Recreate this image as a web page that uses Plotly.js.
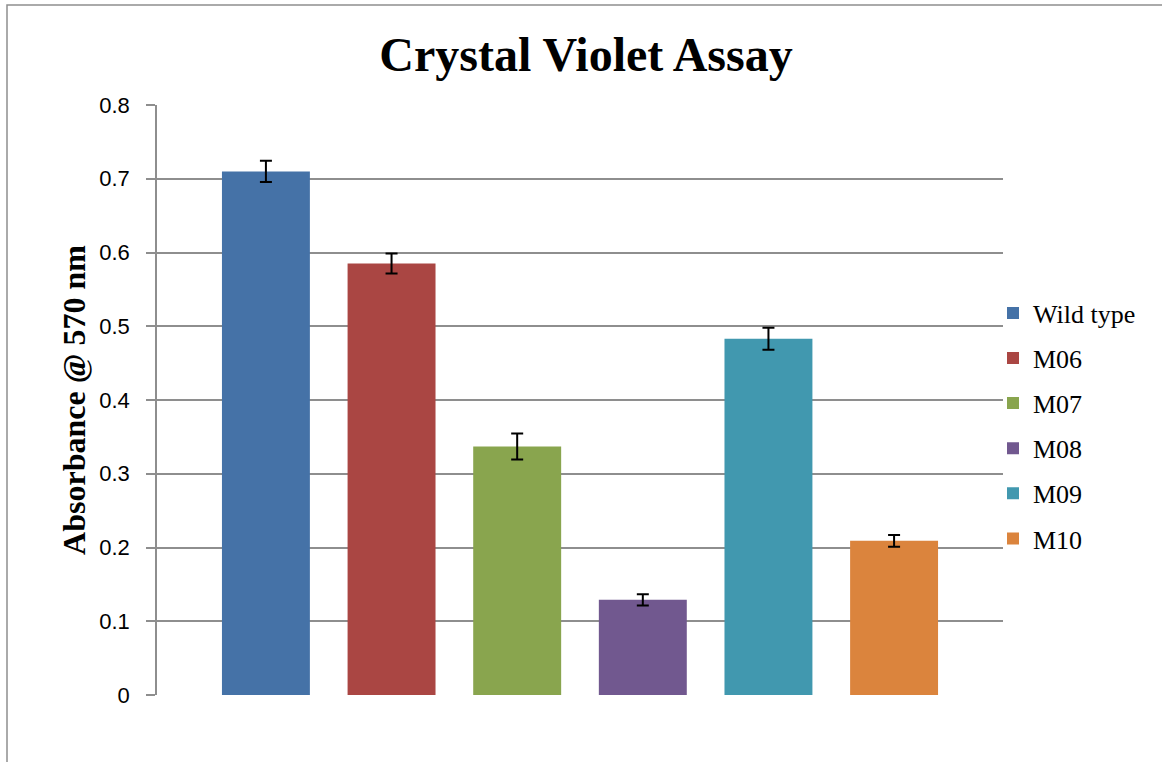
<!DOCTYPE html>
<html>
<head>
<meta charset="utf-8">
<script src="https://cdn.plot.ly/plotly-3.0.1.min.js"></script>
<style>
  html, body { margin: 0; padding: 0; background: #fff; }
  #chart { width: 1162px; height: 762px; }
</style>
</head>
<body>
<div id="chart"></div>
<script>
const seriesNames = ['Wild type', 'M06', 'M07', 'M08', 'M09', 'M10'];
const seriesValues = [0.710, 0.585, 0.337, 0.129, 0.483, 0.209];
const seriesErrors = [0.0145, 0.0135, 0.0176, 0.0075, 0.015, 0.008];
const seriesColors = ['#4572A7', '#AA4643', '#89A54E', '#71588F', '#4198AF', '#DB843D'];
const category = [''];
const yTicks = [0, 0.1, 0.2, 0.3, 0.4, 0.5, 0.6, 0.7, 0.8];
const yTickLabels = ['0', '0.1', '0.2', '0.3', '0.4', '0.5', '0.6', '0.7', '0.8'];

const traces = seriesNames.map((name, i) => ({
  type: 'bar',
  name: name,
  x: category,
  y: [seriesValues[i]],
  legendgroup: 'g' + i,
  marker: { color: seriesColors[i], line: { width: 0 } },
  error_y: { type: 'data', array: [seriesErrors[i]], visible: true, color: '#000', thickness: 2, width: 6 },
  hoverinfo: 'name+y'
}));

const L = 157, R = 1003, T = 105, B = 695;
const pw = R - L, ph = B - T;

const layout = {
  width: 1162, height: 762,
  margin: { l: L, r: 1162 - R, t: T, b: 762 - B },
  paper_bgcolor: '#fff', plot_bgcolor: '#fff',
  barmode: 'group',
  bargap: 0.109,
  bargroupgap: 0.3,
  title: {
    text: '<b>Crystal Violet Assay</b>',
    font: { family: '"Liberation Serif", "Times New Roman", serif', size: 48, color: '#000' },
    xref: 'container', x: 586 / 1162, xanchor: 'center',
    yref: 'container', y: 1 - 54 / 762, yanchor: 'middle'
  },
  xaxis: {
    type: 'category',
    showticklabels: false,
    ticks: '',
    showgrid: false,
    showline: false,
    zeroline: false,
    fixedrange: true
  },
  yaxis: {
    range: [0, 0.8],
    tickmode: 'array',
    tickvals: yTicks,
    ticktext: yTickLabels,
    ticks: 'outside',
    ticklen: 9,
    tickwidth: 1.5,
    tickcolor: '#8E8E8E',
    ticklabelstandoff: 12,
    tickfont: { family: '"Liberation Sans", Arial, sans-serif', size: 22, color: '#000' },
    showgrid: true,
    gridcolor: '#8E8E8E',
    gridwidth: 1.5,
    showline: true,
    linecolor: '#8E8E8E',
    linewidth: 1.5,
    zeroline: false,
    title: {
      text: '<b>Absorbance @ 570 nm</b>',
      font: { family: '"Liberation Serif", "Times New Roman", serif', size: 32, color: '#000' },
      standoff: 4
    },
    fixedrange: true
  },
  showlegend: true,
  legend: {
    xref: 'paper', yref: 'paper',
    x: (993 - L) / pw, xanchor: 'left',
    y: (B - 426) / ph, yanchor: 'middle',
    font: { family: '"Liberation Serif", "Times New Roman", serif', size: 26, color: '#000' },
    tracegroupgap: 8.3,
    bgcolor: 'rgba(0,0,0,0)',
    borderwidth: 0
  },
  shapes: [{
    type: 'rect', xref: 'paper', yref: 'paper',
    x0: (7 - L) / pw, x1: (1175 - L) / pw,
    y0: (B - 775) / ph, y1: (B - 5) / ph,
    line: { color: '#8E8E8E', width: 1.5 },
    fillcolor: 'rgba(0,0,0,0)',
    layer: 'below'
  }]
};

Plotly.newPlot('chart', traces, layout, { displayModeBar: false, staticPlot: false });
</script>
</body>
</html>
